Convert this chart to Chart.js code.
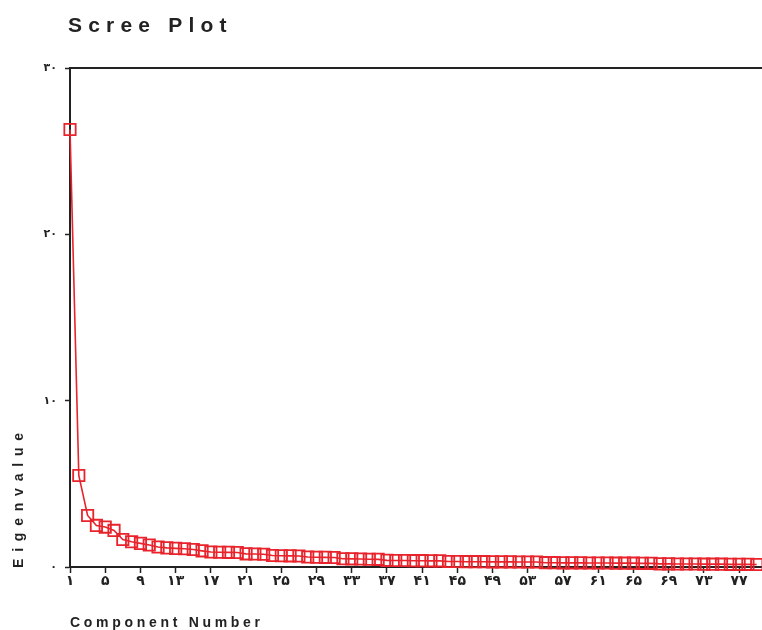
<!DOCTYPE html>
<html>
<head>
<meta charset="utf-8">
<script src="https://cdn.jsdelivr.net/npm/chart.js@4.4.1/dist/chart.umd.min.js"></script>
<style>
    html, body { margin: 0; padding: 0; background: #ffffff; }
    #screeChart { display: block; }
</style>
</head>
<body>
<canvas id="screeChart" width="762" height="630"></canvas>
<script>
// component numbers and their eigenvalues
var components = [1, 2, 3, 4, 5, 6, 7, 8, 9, 10, 11, 12, 13, 14, 15, 16, 17, 18, 19, 20,
    21, 22, 23, 24, 25, 26, 27, 28, 29, 30, 31, 32, 33, 34, 35, 36, 37, 38, 39, 40,
    41, 42, 43, 44, 45, 46, 47, 48, 49, 50, 51, 52, 53, 54, 55, 56, 57, 58, 59, 60,
    61, 62, 63, 64, 65, 66, 67, 68, 69, 70, 71, 72, 73, 74, 75, 76, 77, 78, 79];
var eigenvalues = [26.3, 5.5, 3.1, 2.5, 2.4, 2.2, 1.65, 1.52, 1.42, 1.32,
    1.2, 1.15, 1.12, 1.1, 1.05, 0.97, 0.9, 0.89, 0.88, 0.87,
    0.79, 0.78, 0.77, 0.69, 0.68, 0.67, 0.66, 0.6, 0.59, 0.58,
    0.57, 0.5, 0.49, 0.48, 0.47, 0.46, 0.4, 0.39, 0.39, 0.38,
    0.38, 0.37, 0.37, 0.33, 0.33, 0.32, 0.32, 0.32, 0.31, 0.31,
    0.31, 0.3, 0.3, 0.3, 0.26, 0.26, 0.25, 0.25, 0.25, 0.24,
    0.24, 0.24, 0.23, 0.23, 0.23, 0.22, 0.22, 0.19, 0.19, 0.18,
    0.18, 0.18, 0.17, 0.17, 0.17, 0.16, 0.16, 0.16, 0.15];

// tick positions and their (Persian digit) labels
var xTickValues = [1, 5, 9, 13, 17, 21, 25, 29, 33, 37, 41, 45, 49, 53, 57, 61, 65, 69, 73, 77];
var xTickLabels = ['۱', '۵', '۹', '۱۳', '۱۷', '۲۱', '۲۵', '۲۹', '۳۳', '۳۷',
    '۴۱', '۴۵', '۴۹', '۵۳', '۵۷', '۶۱', '۶۵', '۶۹', '۷۳', '۷۷'];
var yTickValues = [0, 10, 20, 30];
var yTickLabels = ['۰', '۱۰', '۲۰', '۳۰'];

var chartTitle = 'Scree Plot';
var xTitle = 'Component Number';
var yTitle = 'Eigenvalue';

var RED = '#e8232b';
var AXIS = '#222222';

var points = components.map(function (c, i) {
    return { x: c, y: eigenvalues[i] };
});

// titles are drawn by hand so they can get the wide letter spacing of the original
var spacedTitles = {
    id: 'spacedTitles',
    afterDraw: function (chart) {
        var ctx = chart.ctx;
        var area = chart.chartArea;
        ctx.save();

        // frame line on top of the plot
        ctx.strokeStyle = AXIS;
        ctx.lineWidth = 2;
        ctx.beginPath();
        ctx.moveTo(area.left, area.top);
        ctx.lineTo(chart.width, area.top);
        ctx.stroke();

        ctx.fillStyle = '#222222';
        ctx.textBaseline = 'middle';
        ctx.textAlign = 'left';

        ctx.font = 'bold 21px "Liberation Sans", Arial, sans-serif';
        ctx.letterSpacing = '6.2px';
        ctx.fillText(chartTitle, 68, 26);

        ctx.font = 'bold 14px "Liberation Sans", Arial, sans-serif';
        ctx.letterSpacing = '3.7px';
        ctx.fillText(xTitle, 70, 623);

        ctx.translate(19, 568);
        ctx.rotate(-Math.PI / 2);
        ctx.letterSpacing = '6.8px';
        ctx.fillText(yTitle, 0, 0);

        ctx.restore();
    }
};

var ctx = document.getElementById('screeChart').getContext('2d');
var screeChart = new Chart(ctx, {
    type: 'line',
    plugins: [spacedTitles],
    data: {
        datasets: [{
            label: 'Eigenvalue',
            data: points,
            borderColor: RED,
            borderWidth: 1.6,
            backgroundColor: 'rgba(0,0,0,0)',
            pointStyle: 'rect',
            pointRadius: 8,
            pointBorderWidth: 1.8,
            pointBorderColor: RED,
            pointBackgroundColor: 'rgba(0,0,0,0)',
            tension: 0,
            clip: false
        }]
    },
    options: {
        responsive: false,
        animation: false,
        events: [],
        layout: {
            autoPadding: false, // otherwise the point radius eats the right edge
            padding: { top: 68, left: 0, right: 0, bottom: 0 }
        },
        plugins: {
            legend: { display: false },
            title: { display: false },
            tooltip: { enabled: false }
        },
        scales: {
            x: {
                type: 'linear',
                min: 1,
                max: 79.6,
                afterBuildTicks: function (scale) {
                    scale.ticks = xTickValues.map(function (v) { return { value: v }; });
                },
                afterFit: function (scale) {
                    scale.height = 63;
                    scale.paddingLeft = 0;
                    scale.paddingRight = 0;
                },
                ticks: {
                    autoSkip: false,
                    maxRotation: 0,
                    padding: 0,
                    color: '#222222',
                    font: { family: '"DejaVu Sans", sans-serif', size: 14, weight: 'bold' },
                    callback: function (value) {
                        var i = xTickValues.indexOf(value);
                        return i >= 0 ? xTickLabels[i] : '';
                    }
                },
                grid: {
                    drawOnChartArea: false,
                    drawTicks: true,
                    tickLength: 6,
                    tickWidth: 1.5,
                    tickColor: AXIS
                },
                border: { display: true, color: AXIS, width: 2 }
            },
            y: {
                min: 0,
                max: 30,
                afterBuildTicks: function (scale) {
                    scale.ticks = yTickValues.map(function (v) { return { value: v }; });
                },
                afterFit: function (scale) {
                    scale.width = 70;
                    scale.paddingTop = 0;
                    scale.paddingBottom = 0;
                },
                ticks: {
                    padding: 8,
                    color: '#222222',
                    font: { family: '"DejaVu Sans", sans-serif', size: 11, weight: 'bold' },
                    callback: function (value) {
                        var i = yTickValues.indexOf(value);
                        return i >= 0 ? yTickLabels[i] : '';
                    }
                },
                grid: {
                    drawOnChartArea: false,
                    drawTicks: true,
                    tickLength: 5,
                    tickWidth: 1.5,
                    tickColor: AXIS
                },
                border: { display: true, color: AXIS, width: 2 }
            }
        }
    }
});
</script>
</body>
</html>
